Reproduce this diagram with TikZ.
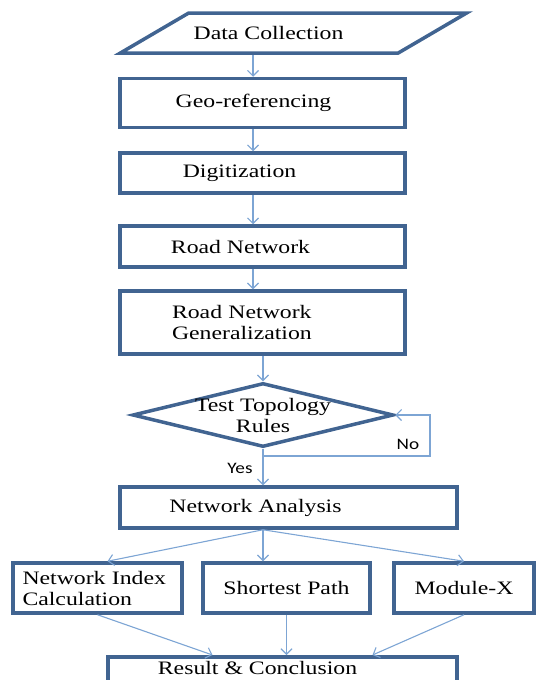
\documentclass[tikz,border=0pt]{standalone}
\usepackage{fontspec}
\setmainfont{Liberation Serif}[FakeStretch=1.25]
\newfontfamily\tagfont{Carlito}[FakeStretch=1.2]
\usepackage{tikz}
\usetikzlibrary{arrows.meta,positioning,shapes.geometric,calc}
\definecolor{edge}{RGB}{65,100,145}
\definecolor{flow}{RGB}{125,165,212}

\begin{document}
\begin{tikzpicture}[
    x=1pt, y=-1pt,
    font=\fontsize{19}{21}\selectfont,
    box/.style={draw=edge, line width=3.5pt, align=center, inner sep=2pt, fill=white},
    mainbox/.style={box, minimum width=285pt},
    subbox/.style={box, minimum height=50pt},
    inbox/.style={draw=edge, line width=3.5pt, trapezium, trapezium left angle=30, trapezium right angle=150, trapezium stretches=true, minimum width=347pt, minimum height=40pt},
    decision/.style={draw=edge, line width=3.5pt, diamond, minimum width=261pt, minimum height=64pt, inner sep=0pt},
    nudge/.style={execute at begin node={\hspace*{#1}}},
    line/.style={draw=flow, line width=1.1pt, -{Straight Barb[length=5.5pt,width=11pt]}},
    tag/.style={font=\tagfont\fontsize{16}{18}\selectfont}
]
\useasboundingbox (0,0) rectangle (537,680);
\node[inbox, nudge=-50pt] (data) at (293.5,33) {Data Collection};
\node[mainbox, minimum height=49pt, nudge=-18pt] (geo) at (262.5,103) {Geo-referencing};
\node[mainbox, minimum height=40pt, nudge=-46pt] (digit) at (262.5,173) {Digitization};
\node[mainbox, minimum height=41pt, nudge=-44pt] (road) at (262.5,246.5) {Road Network};
\node[mainbox, minimum height=63pt, align=left, text width=181pt] (general) at (262.5,322.5) {Road Network\\Generalization};
\node[decision, label={[align=center]center:Test Topology\\Rules}] (topo) at (263,415) {};
\node[box, minimum width=337pt, minimum height=41pt, nudge=-66pt] (analysis) at (288.5,507.5) {Network Analysis};
\node[subbox, minimum width=169pt, align=left, text width=150pt] (index) at (97.5,588) {Network Index\\Calculation};
\node[subbox, minimum width=167pt] (shortest) at (286.5,588) {Shortest Path};
\node[subbox, minimum width=140pt] (modx) at (464,588) {Module-X};
\node[box, anchor=north, minimum width=349pt, text height=16pt, text depth=20pt, nudge=-50pt] (result) at (282.5,655) {Result \& Conclusion};
\node[tag] (yes) at (240,468) {Yes};
\node[tag] (no) at (408,444) {No};
% main column
\coordinate (spine) at (253,0);
\draw[line] (data.south -| spine) -- (geo.north -| spine);
\draw[line] (geo.south -| spine) -- (digit.north -| spine);
\draw[line] (digit.south -| spine) -- (road.north -| spine);
\draw[line] (road.south -| spine) -- (general.north -| spine);
\draw[line] (general.south -| topo) -- (topo.north);
% topology check
\coordinate (loop) at (430,456);
\draw[line] (topo.south) |- (loop) |- (topo.east);
\draw[line] (topo.south) -- (topo.south |- analysis.north);
% analysis modules
\coordinate (split) at ($(analysis.south)+(-25.5,0)$);
\draw[line] (split) -- ([xshift=10pt]index.north);
\draw[line] (split) -- (split |- shortest.north);
\draw[line] (split) -- (modx.north);
\draw[line] (index.south) -- ([xshift=-70pt]result.north);
\draw[line] (shortest.south) -- (shortest.south |- result.north);
\draw[line] (modx.south) -- ([xshift=90pt]result.north);
\end{tikzpicture}
\end{document}
